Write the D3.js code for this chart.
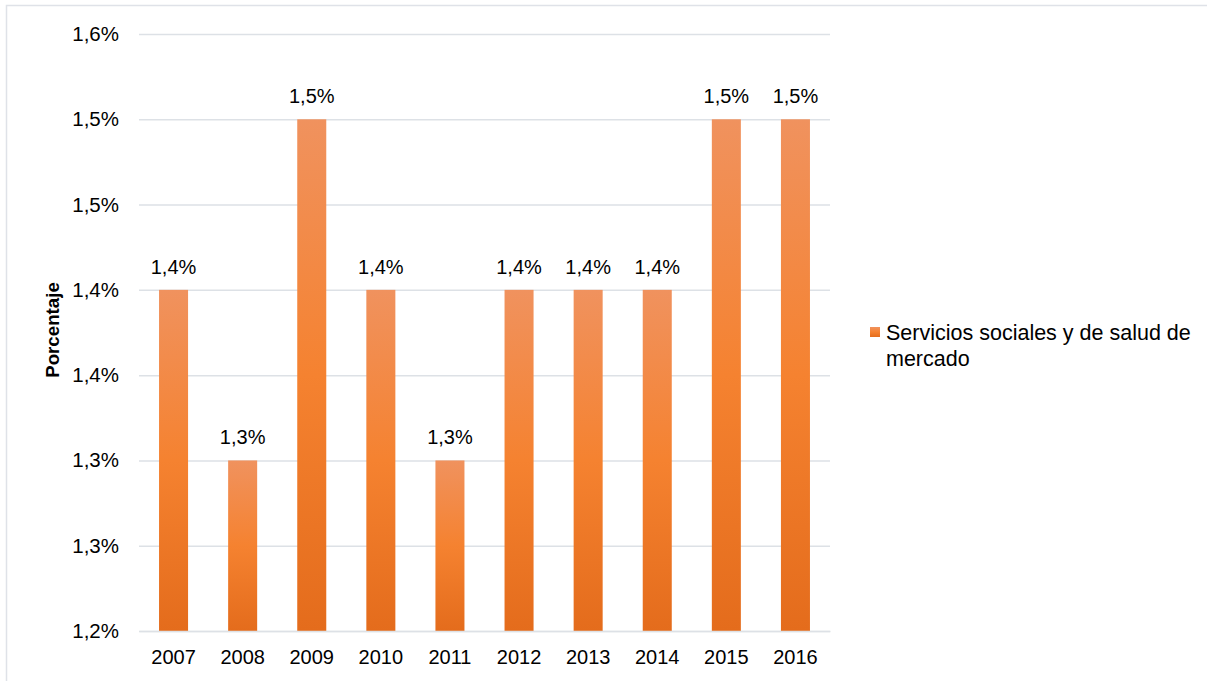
<!DOCTYPE html>
<html>
<head>
<meta charset="utf-8">
<script src="https://cdn.jsdelivr.net/npm/d3@7/dist/d3.min.js"></script>
<style>
  html, body { margin: 0; padding: 0; background: #fff; }
  svg { display: block; font-family: "Liberation Sans", Arial, sans-serif; }
</style>
</head>
<body>
<svg id="chart" width="1207" height="681"></svg>
<script>
// Market social and health services, share by year
const years = ["2007", "2008", "2009", "2010", "2011", "2012", "2013", "2014", "2015", "2016"];
const values = [1.40, 1.30, 1.50, 1.40, 1.30, 1.40, 1.40, 1.40, 1.50, 1.50];
const yTicks = [1.20, 1.25, 1.30, 1.35, 1.40, 1.45, 1.50, 1.55];
const seriesName = ["Servicios sociales y de salud de", "mercado"];
const axisTitle = "Porcentaje";

const svg = d3.select("#chart");
// one decimal, half rounded up, decimal comma
const fmt = v => (Math.round(v * 10 + 1e-9) / 10).toFixed(1).replace(".", ",") + "%";

// outer frame
svg.append("rect")
  .attr("x", 6.5).attr("y", 5.5)
  .attr("width", 1210).attr("height", 690)
  .attr("fill", "none").attr("stroke", "#dfe2e8").attr("stroke-width", 1.5);

const x = d3.scaleBand().domain(years).range([139, 830]).paddingInner(0.58).paddingOuter(0.29);
const y = d3.scaleLinear().domain([1.20, 1.55]).range([631, 34]);

// bar gradient, lighter at the top
const defs = svg.append("defs");
const grad = defs.append("linearGradient")
  .attr("id", "barGrad").attr("x1", 0).attr("y1", 0).attr("x2", 0).attr("y2", 1);
grad.append("stop").attr("offset", "0%").attr("stop-color", "#f0925e");
grad.append("stop").attr("offset", "50%").attr("stop-color", "#f58230");
grad.append("stop").attr("offset", "100%").attr("stop-color", "#e46c1c");

// gridlines
const yAxis = d3.axisLeft(y).tickValues(yTicks).tickSize(-(830 - 139)).tickFormat(fmt).tickPadding(20);
const gy = svg.append("g").attr("transform", "translate(139,0)").call(yAxis);
gy.select(".domain").remove();
gy.selectAll(".tick line").attr("stroke", "#dde1e6").attr("stroke-width", 1.5);
gy.selectAll(".tick text")
  .attr("font-size", 20.5).attr("fill", "#000")
  .attr("font-family", "Liberation Sans, Arial, sans-serif");

// bars
svg.append("g").selectAll("rect")
  .data(values)
  .join("rect")
  .attr("x", (d, i) => x(years[i]))
  .attr("y", d => y(d))
  .attr("width", x.bandwidth())
  .attr("height", d => y(1.20) - y(d))
  .attr("fill", "url(#barGrad)");

// value labels
svg.append("g").selectAll("text")
  .data(values)
  .join("text")
  .attr("x", (d, i) => x(years[i]) + x.bandwidth() / 2)
  .attr("y", d => y(d) - 16)
  .attr("text-anchor", "middle")
  .attr("font-size", 20)
  .attr("fill", "#000")
  .text(d => fmt(d));

// x axis
const xAxis = d3.axisBottom(x).tickSize(0).tickPadding(19);
const gx = svg.append("g").attr("transform", "translate(0,631)").call(xAxis);
gx.select(".domain").attr("stroke", "#dde1e6").attr("stroke-width", 1.5);
gx.selectAll(".tick text")
  .attr("font-size", 20).attr("fill", "#000")
  .attr("font-family", "Liberation Sans, Arial, sans-serif");

// axis title
svg.append("text")
  .attr("transform", "translate(59,330) rotate(-90)")
  .attr("text-anchor", "middle")
  .attr("font-size", 18.7)
  .attr("font-weight", "bold")
  .attr("fill", "#000")
  .text(axisTitle);

// legend
const lg = svg.append("g");
lg.append("rect")
  .attr("x", 870).attr("y", 327).attr("width", 10).attr("height", 10)
  .attr("fill", "url(#barGrad)");
lg.selectAll("text.leg")
  .data(seriesName)
  .join("text")
  .attr("class", "leg")
  .attr("x", 886)
  .attr("y", (d, i) => 340 + i * 26)
  .attr("font-size", 21.5)
  .attr("fill", "#000")
  .text(d => d);
</script>
</body>
</html>
